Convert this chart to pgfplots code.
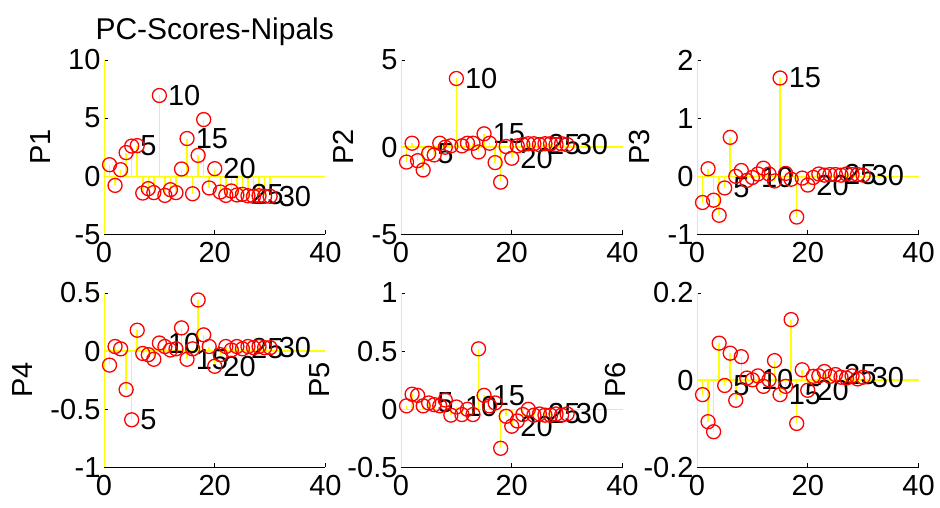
\documentclass[border=0pt]{standalone}
\usepackage{fontspec}
\setmainfont{Liberation Sans}
\usepackage{pgfplots}
\usepackage{pgfplotstable}
\pgfplotsset{compat=1.18}
\definecolor{myyellow}{rgb}{1,1,0}
\definecolor{myred}{rgb}{1,0,0}

\pgfplotstableread{
x y
1 1.0
2 -0.78
3 0.57
4 2.04
5 2.6
6 2.64
7 -1.44
8 -1.06
9 -1.4
10 6.95
11 -1.64
12 -1.15
13 -1.4
14 0.63
15 3.25
16 -1.5
17 1.8
18 4.88
19 -1.0
20 0.66
21 -1.35
22 -1.64
23 -1.26
24 -1.6
25 -1.55
26 -1.67
27 -1.72
28 -1.67
29 -1.72
30 -1.72
}\Pone
\pgfplotstableread{
x y
1 -0.85
2 0.23
3 -0.77
4 -1.3
5 -0.35
6 -0.44
7 0.23
8 0.0
9 0.08
10 3.94
11 0.08
12 0.23
13 0.23
14 -0.27
15 0.77
16 0.23
17 -0.88
18 -2.0
19 0.04
20 -0.63
21 0.08
22 0.15
23 0.2
24 0.2
25 0.15
26 0.2
27 0.2
28 0.15
29 0.2
30 0.15
}\Ptwo
\pgfplotstableread{
x y
1 -0.45
2 0.13
3 -0.41
4 -0.67
5 -0.2
6 0.67
7 0.0
8 0.1
9 -0.07
10 -0.02
11 0.04
12 0.14
13 0.04
14 -0.08
15 1.69
16 0.05
17 -0.05
18 -0.7
19 -0.03
20 -0.15
21 -0.02
22 0.04
23 0.02
24 0.03
25 0.03
26 0.02
27 0.04
28 0.03
29 0.03
30 0.02
}\Pthree
\pgfplotstableread{
x y
1 -0.12
2 0.04
3 0.02
4 -0.33
5 -0.59
6 0.18
7 -0.02
8 -0.03
9 -0.07
10 0.07
11 0.04
12 0.01
13 0.02
14 0.2
15 -0.07
16 0.02
17 0.44
18 0.14
19 0.04
20 -0.13
21 -0.03
22 0.04
23 0.01
24 0.04
25 0.02
26 0.04
27 0.03
28 0.04
29 0.03
30 0.03
}\Pfour
\pgfplotstableread{
x y
1 0.03
2 0.13
3 0.12
4 0.03
5 0.055
6 0.04
7 0.03
8 0.08
9 -0.05
10 0.02
11 -0.045
12 0.0
13 -0.045
14 0.52
15 0.12
16 0.03
17 0.055
18 -0.335
19 -0.06
20 -0.145
21 -0.1
22 -0.045
23 0.0
24 -0.05
25 -0.04
26 -0.05
27 -0.05
28 -0.04
29 -0.05
30 -0.04
}\Pfive
\pgfplotstableread{
x y
1 -0.033
2 -0.095
3 -0.118
4 0.085
5 -0.012
6 0.062
7 -0.046
8 0.054
9 0.005
10 0.001
11 0.01
12 -0.014
13 0.001
14 0.045
15 -0.033
16 -0.014
17 0.139
18 -0.099
19 0.024
20 -0.023
21 0.009
22 0.01
23 0.02
24 0.009
25 0.013
26 0.007
27 0.005
28 0.01
29 0.003
30 0.007
}\Psix

\pgfplotsset{
  pcpanel/.style={
    scale only axis, width=221.5pt, height=174.5pt,
    anchor=north west,
    axis x line*=bottom, axis y line*=left,
    axis line style={-, black, line width=0.8pt},
    xmin=0, xmax=40, xtick={0,20,40}, xticklabels={0,20,40},
    enlargelimits=false,
    tick align=inside, major tick length=4pt,
    tick style={black, line width=0.7pt},
    tick label style={font=\fontsize{29}{31}\selectfont},
    xticklabel style={yshift=-4pt},
    label style={font=\fontsize{29}{31}\selectfont},
    ylabel style={yshift=11pt},
    clip=false,
  },
  stem/.style={ycomb, draw=myyellow, line width=1.5pt, mark=none, forget plot},
  circ/.style={only marks, mark=o, mark size=7pt, mark options={draw=myred, line width=1.3pt}},
  lab/.style={draw=none, mark=none, nodes near coords, point meta=explicit symbolic,
    nodes near coords style={anchor=west, xshift=8.5pt, inner sep=0pt,
      font=\fontsize{29}{31}\selectfont, text=black}},
}
\newcommand{\panel}[3]{% table, ymin, ymax
  \addplot[lab] table[x=x, y=y, meta=x, skip coords between index={0}{4}, skip coords between index={5}{9}, skip coords between index={10}{14}, skip coords between index={15}{19}, skip coords between index={20}{24}, skip coords between index={25}{29}] {#1};
  \addplot[myyellow, line width=1.5pt] coordinates {(0.12,#2) (0.12,#3)};
  \addplot[myyellow, line width=1.5pt] coordinates {(0,0) (40,0)};
  \addplot[stem] table[x=x, y=y] {#1};
  \addplot[circ] table[x=x, y=y] {#1};
}

\begin{document}
\begin{tikzpicture}
\path[use as bounding box] (0pt,0pt) rectangle (940pt,508pt);
\begin{axis}[pcpanel, at={(104pt,448pt)}, ymin=-5, ymax=10, ytick={-5,0,5,10}, yticklabels={-5,0,5,10}, ylabel={P1},
  title={PC-Scores-Nipals}, title style={font=\fontsize{30}{32}\selectfont, yshift=5pt}]
\panel{\Pone}{-5}{10}
\end{axis}
\begin{axis}[pcpanel, at={(401pt,448pt)}, ymin=-5, ymax=5, ytick={-5,0,5}, yticklabels={-5,0,5}, ylabel={P2}]
\panel{\Ptwo}{-5}{5}
\end{axis}
\begin{axis}[pcpanel, at={(697pt,448pt)}, ymin=-1, ymax=2, ytick={-1,0,1,2}, yticklabels={-1,0,1,2}, ylabel={P3}]
\panel{\Pthree}{-1}{2}
\end{axis}
\begin{axis}[pcpanel, at={(104pt,215pt)}, ymin=-1, ymax=0.5, ytick={-1,-0.5,0,0.5}, yticklabels={-1,-0.5,0,0.5}, ylabel={P4}]
\panel{\Pfour}{-1}{0.5}
\end{axis}
\begin{axis}[pcpanel, at={(401pt,215pt)}, ymin=-0.5, ymax=1, ytick={-0.5,0,0.5,1}, yticklabels={-0.5,0,0.5,1}, ylabel={P5}]
\panel{\Pfive}{-0.5}{1}
\end{axis}
\begin{axis}[pcpanel, at={(697pt,215pt)}, ymin=-0.2, ymax=0.2, ytick={-0.2,0,0.2}, yticklabels={-0.2,0,0.2}, ylabel={P6}]
\panel{\Psix}{-0.2}{0.2}
\end{axis}
\end{tikzpicture}
\end{document}
